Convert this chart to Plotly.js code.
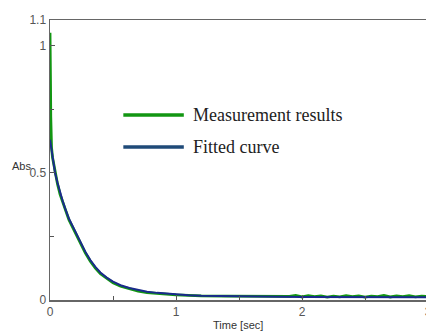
<!DOCTYPE html>
<html>
<head>
<meta charset="utf-8">
<script src="https://cdn.plot.ly/plotly-3.0.1.min.js"></script>
<style>
html,body{margin:0;padding:0;overflow:hidden;background:#fff;width:426px;height:331px;}
#chart{width:440px;height:331px;}
</style>
</head>
<body>
<div id="chart"></div>
<script>
// Measurement results
const measT = [0, 0.002, 0.004, 0.006, 0.008, 0.012, 0.02, 0.04, 0.06, 0.08, 0.1, 0.12, 0.15, 0.18, 0.2, 0.24, 0.28, 0.32, 0.36, 0.4, 0.45, 0.5, 0.56, 0.63, 0.7, 0.77, 0.85, 0.92, 1.0, 1.1, 1.2, 1.4, 1.6, 1.8, 1.9, 1.95, 2.0, 2.05, 2.1, 2.15, 2.2, 2.25, 2.3, 2.35, 2.4, 2.45, 2.5, 2.55, 2.6, 2.65, 2.7, 2.75, 2.8, 2.85, 2.9, 2.95, 3.0];
const measV = [1.05, 1.0, 0.85, 0.72, 0.66, 0.6, 0.56, 0.5, 0.455, 0.415, 0.385, 0.355, 0.315, 0.285, 0.265, 0.228, 0.185, 0.152, 0.125, 0.103, 0.084, 0.068, 0.054, 0.043, 0.035, 0.029, 0.025, 0.022, 0.02, 0.018, 0.016, 0.015, 0.015, 0.016, 0.014, 0.018, 0.012, 0.017, 0.013, 0.016, 0.011, 0.015, 0.012, 0.017, 0.013, 0.016, 0.011, 0.015, 0.013, 0.018, 0.012, 0.016, 0.013, 0.017, 0.012, 0.015, 0.014];
// Fitted curve
const fitT = [0, 0.02, 0.04, 0.06, 0.08, 0.1, 0.12, 0.15, 0.18, 0.2, 0.24, 0.28, 0.32, 0.36, 0.4, 0.45, 0.5, 0.56, 0.63, 0.7, 0.77, 0.85, 0.92, 1.0, 1.1, 1.2, 1.4, 1.6, 1.8, 2.0, 2.3, 2.6, 3.0];
const fitV = [0.63, 0.56, 0.50, 0.46, 0.42, 0.39, 0.36, 0.32, 0.29, 0.27, 0.235, 0.19, 0.157, 0.13, 0.108, 0.088, 0.072, 0.058, 0.047, 0.038, 0.032, 0.028, 0.025, 0.022, 0.019, 0.017, 0.015, 0.014, 0.013, 0.012, 0.012, 0.011, 0.011];

const seriesNames = ["Measurement results", "Fitted curve"];
const seriesColors = ["#129612", "#1a2a8c"];
const legendColors = ["#129612", "#1f4a78"];
const xTicks = [0, 1, 2, 3];
const yTicks = [0, 0.5, 1, 1.1];
const yTickText = ["0", "0.5", "1", "1.1"];

const traces = [
  {x: measT, y: measV, mode: "lines", name: seriesNames[0], line: {color: seriesColors[0], width: 2.8}, showlegend: false},
  {x: fitT, y: fitV, mode: "lines", name: seriesNames[1], line: {color: seriesColors[1], width: 2}, showlegend: false}
];

const axisCommon = {
  showline: true, linecolor: "#666", linewidth: 1.5, mirror: true,
  showgrid: false, zeroline: false,
  ticks: "inside", ticklen: 5, tickcolor: "#555", tickwidth: 1,
  tickfont: {family: "Liberation Sans, Arial, sans-serif", size: 12, color: "#555"}
};

const layout = {
  width: 440, height: 331,
  margin: {l: 50, r: 12, t: 20, b: 31},
  paper_bgcolor: "#fff", plot_bgcolor: "#fff",
  xaxis: Object.assign({}, axisCommon, {
    range: [0, 3], tickvals: xTicks, ticktext: xTicks.map(String),
    minor: {tickvals: [0.5, 1.5, 2.5], ticks: "inside", ticklen: 4, tickcolor: "#555"}
  }),
  yaxis: Object.assign({}, axisCommon, {
    range: [0, 1.1], tickvals: yTicks, ticktext: yTickText,
    minor: {tickvals: [0.25, 0.75], ticks: "inside", ticklen: 4, tickcolor: "#555"}
  }),
  shapes: [
    {type: "line", xref: "paper", yref: "paper", x0: 0.194, x1: 0.354, y0: 0.661, y1: 0.661, line: {color: legendColors[0], width: 3.5}},
    {type: "line", xref: "paper", yref: "paper", x0: 0.194, x1: 0.354, y0: 0.546, y1: 0.546, line: {color: legendColors[1], width: 3.5}}
  ],
  annotations: [
    {text: seriesNames[0], xref: "paper", yref: "paper", x: 0.372, y: 0.661, xanchor: "left", yanchor: "middle", showarrow: false,
     font: {family: "Liberation Serif, Times New Roman, serif", size: 18, color: "#222"}},
    {text: seriesNames[1], xref: "paper", yref: "paper", x: 0.372, y: 0.546, xanchor: "left", yanchor: "middle", showarrow: false,
     font: {family: "Liberation Serif, Times New Roman, serif", size: 18, color: "#222"}},
    {text: "Abs", xref: "paper", yref: "paper", x: -0.045, y: 0.479, xanchor: "right", yanchor: "middle", showarrow: false,
     font: {family: "Liberation Sans, Arial, sans-serif", size: 11, color: "#333"}},
    {text: "Time [sec]", xref: "paper", yref: "paper", x: 0.497, y: -0.088, xanchor: "center", yanchor: "middle", showarrow: false,
     font: {family: "Liberation Sans, Arial, sans-serif", size: 11, color: "#333"}}
  ]
};

Plotly.newPlot("chart", traces, layout, {staticPlot: true, displayModeBar: false});
</script>
</body>
</html>
